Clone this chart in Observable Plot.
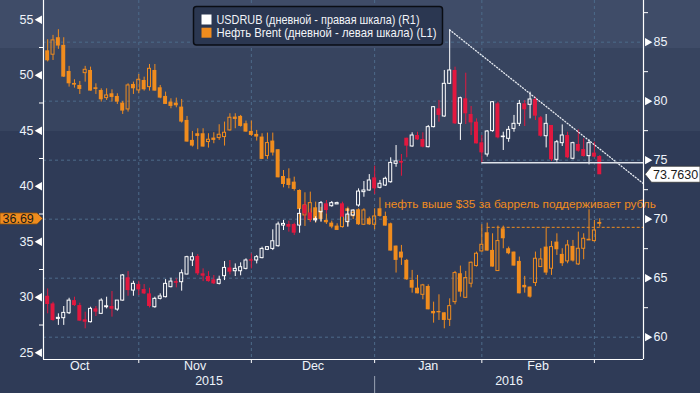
<!DOCTYPE html>
<html><head><meta charset="utf-8">
<script src="https://cdn.jsdelivr.net/npm/d3@7"></script>
<script src="https://cdn.jsdelivr.net/npm/@observablehq/plot@0.6"></script>
<style>
html,body{margin:0;padding:0;}
body{width:700px;height:393px;overflow:hidden;
background:linear-gradient(to bottom,#3f4c68 0,#3f4c68 48px,#37445f 48px,#37445f 131px,#2f3b57 131px);
font-family:"Liberation Sans",Arial,sans-serif;}
#chart{position:relative;width:700px;height:393px;}
</style></head><body><div id="chart"></div>
<script>
// ---- data: trading-day index 0..104 (early Oct 2015 .. 2 Mar 2016) ----
const brentO = [52.0,52.2,51.85,53.38,52.69,50.34,49.26,49.08,50.19,50.43,
48.87,48.63,47.94,48.33,48.09,47.49,46.92,49.17,48.63,49.53,
48.93,50.43,48.87,48.09,47.58,47.49,47.13,45.93,44.13,44.73,
44.73,43.98,44.34,44.34,44.43,45.03,46.23,46.29,45.63,44.94,
44.67,44.43,42.72,44.07,43.29,40.88,40.67,40.37,39.62,37.37,
36.98,38.06,37.76,36.92,36.68,36.41,36.32,37.97,37.3,37.88,
36.53,37.07,36.53,37.97,37.28,36.62,34.61,34.07,33.32,31.52,
30.82,30.22,30.97,28.72,28.72,28.6,27.97,29.56,32.12,29.95,
31.22,32.81,34.13,35.81,34.22,32.36,36.17,34.37,34.07,33.23,
31.07,30.92,31.28,32.72,34.52,32.57,34.97,33.86,33.23,34.58,
32.96,34.37,35.12,35.06,36.62];
const brentH = [52.1,53.2,53.59,54.1,53.38,50.8,49.59,49.44,50.8,50.73,
49.23,48.78,48.78,48.69,48.33,47.64,49.23,49.38,50.07,49.83,
50.97,50.97,49.08,48.48,47.88,47.94,47.82,46.29,44.94,45.18,
45.18,44.73,44.82,45.54,45.78,46.53,46.53,46.38,45.87,45.87,
45.03,44.73,44.79,44.79,43.29,41.42,41.57,40.82,39.68,39.41,
39.47,38.57,38.1,37.52,36.86,36.62,38.12,38.12,37.8,37.97,
37.97,37.22,37.97,38.96,37.67,36.68,34.61,34.67,33.41,32.42,
31.97,31.16,31.12,29.56,30.22,28.6,29.86,32.33,32.81,32.33,
33.17,34.07,36.53,36.68,35.72,36.41,36.41,34.52,34.07,33.62,
31.88,30.92,34.07,34.37,36.32,35.03,35.72,34.37,35.12,35.12,
35.87,35.72,37.88,36.92,37.07];
const brentL = [49.3,51.2,51.33,52.33,49.8,48.93,48.84,48.27,49.38,48.57,
48.27,47.58,47.73,47.58,47.37,46.47,46.68,48.27,48.33,48.57,
48.57,48.57,47.88,47.37,46.98,47.07,45.69,43.98,43.53,43.29,
43.53,43.44,43.83,44.13,43.62,44.97,45.18,45.33,44.88,44.49,
44.07,42.42,42.42,42.72,40.76,39.86,39.77,39.56,36.56,36.38,
36.77,36.68,36.8,36.56,36.17,36.02,36.23,36.38,37.0,36.47,
36.47,36.47,36.08,37.22,36.41,34.16,32.18,32.87,31.52,30.37,
30.31,29.77,28.87,27.67,27.91,27.16,27.37,29.32,30.01,29.95,
30.85,32.72,34.07,34.16,32.72,32.36,34.37,33.83,32.81,30.31,
30.37,29.92,30.97,32.72,31.97,31.97,33.77,32.78,33.02,33.17,
32.87,33.38,35.12,34.97,36.32];
const brentC = [49.4,51.3,53.14,52.63,49.83,49.23,49.11,48.72,50.49,48.57,
48.72,47.79,48.18,48.0,47.58,46.77,49.08,48.78,49.59,48.69,
50.58,48.57,47.94,47.37,47.19,47.25,45.78,43.98,43.62,44.49,
43.53,44.19,44.13,44.64,44.82,46.17,46.02,45.39,44.88,44.58,
44.43,42.42,43.89,42.99,40.76,40.16,40.07,39.71,37.91,38.27,
38.48,36.98,37.01,36.71,36.32,36.02,37.88,37.73,37.6,36.53,
37.82,36.53,37.28,37.28,36.41,34.16,33.32,33.53,31.57,30.82,
30.31,31.07,28.87,28.51,28.6,27.91,29.2,32.18,30.46,31.73,
33.11,33.92,34.73,34.16,32.72,35.06,35.27,33.92,32.81,30.31,
30.85,30.01,33.47,33.41,32.18,34.52,34.28,33.02,34.67,33.26,
34.37,35.27,35.18,36.02,36.69];

const usdO = [64.66,63.47,62.82,61.55,61.61,62.03,63.1,62.68,61.47,61.27,
62.4,61.98,62.54,62.6,62.34,63.1,65.03,63.95,64.46,64.04,
63.67,62.54,63.25,63.39,64.24,64.71,64.66,65.31,66.5,66.84,
65.37,65.14,64.86,64.52,65.17,65.87,65.59,65.59,65.79,66.56,
66.5,66.7,67.4,67.48,67.71,69.46,69.55,69.55,69.46,71.16,
70.53,69.9,70.59,71.3,71.1,71.25,71.3,69.75,70.31,71.16,
72.29,72.43,73.5,72.66,72.85,73.13,74.69,74.89,76.86,76.16,
77.09,76.75,76.1,77.8,79.35,78.7,81.47,82.6,78.08,80.2,
78.87,78.22,76.47,75.48,77.46,79.77,76.95,76.81,77.65,78.08,
79.77,79.69,80.14,78.59,77.03,77.94,75.03,76.44,77.09,75.12,
76.33,75.9,75.34,75.6,75.31];
const usdH = [64.7,64.09,62.96,61.98,62.6,63.3,63.39,62.88,62.12,62.54,
62.6,63.25,63.39,63.87,63.1,65.31,65.56,64.74,64.74,64.46,
64.15,63.39,63.67,64.88,65.0,64.94,65.7,66.86,67.15,67.0,
65.79,65.56,65.23,65.17,66.41,66.5,66.21,66.3,66.64,67.06,
66.92,67.63,67.68,69.1,69.75,69.89,69.83,69.66,70.87,71.44,
70.87,70.2,71.5,71.58,71.5,71.44,71.44,70.87,70.79,72.57,
73.19,73.78,74.49,73.28,73.56,75.2,76.24,75.48,76.86,77.32,
77.37,77.32,77.94,79.55,80.06,82.6,86.04,82.88,80.34,82.37,
79.55,78.5,77.09,77.51,79.97,79.91,77.37,77.85,78.79,80.06,
80.06,80.76,80.34,78.7,78.87,77.94,76.67,77.99,77.37,76.52,
77.57,76.81,76.72,76.52,75.39];
const usdL = [63.4,61.98,61.36,61.0,61.0,61.92,62.6,61.36,60.71,61.21,
61.75,61.92,62.4,61.7,62.2,63.05,63.47,63.47,63.53,63.61,
62.48,62.46,63.16,63.33,64.18,64.18,63.9,65.28,65.99,65.23,
64.71,64.66,64.46,64.43,64.8,65.28,65.14,65.2,65.7,65.79,
66.21,66.64,67.34,67.34,67.63,69.04,68.9,68.62,68.81,69.89,
69.75,69.7,69.75,70.45,71.02,71.25,70.17,69.32,70.22,71.02,
71.86,72.37,72.09,72.57,72.77,73.05,74.4,73.64,75.2,76.1,
76.67,76.04,76.04,77.74,78.22,78.64,81.41,78.02,76.67,78.02,
77.09,76.38,74.77,75.26,77.37,76.81,75.82,76.52,77.37,77.85,
77.85,78.5,78.36,76.95,76.04,74.89,74.83,76.16,75.12,75.03,
75.68,75.26,74.6,75.2,73.78];
const usdC = [63.53,62.77,61.41,61.64,62.06,63.1,62.68,61.36,61.27,62.4,
62.12,63.1,62.62,62.37,63.1,65.23,63.95,64.52,64.01,63.67,
62.6,63.25,63.45,64.52,64.71,64.57,65.42,66.78,66.78,65.37,
65.17,64.71,64.52,64.86,65.87,65.51,65.79,65.93,66.5,66.44,
66.78,67.48,67.63,68.13,69.55,69.6,69.32,68.81,70.45,70.45,
69.97,70.0,71.36,70.73,71.36,71.36,70.17,70.39,70.73,72.34,
72.43,73.28,72.57,73.0,73.42,74.77,74.89,74.75,76.19,77.09,
76.72,76.1,77.8,79.49,78.79,81.47,82.6,78.08,80.25,78.93,
78.16,76.38,75.62,77.43,79.91,76.89,77.0,77.57,78.08,79.77,
79.27,80.14,78.73,77.03,78.08,75.03,76.52,77.09,75.2,76.44,
75.76,75.31,76.44,75.26,73.763];

// axis ticks / calendar
const usdTicks = [60, 65, 70, 75, 80, 85];
const usdMinor = [62.5, 67.5, 72.5, 77.5, 82.5, 87.5];
const brentTicks = [25, 30, 35, 40, 45, 50, 55];
const brentMinor = [27.5, 32.5, 37.5, 42.5, 47.5, 52.5];
const monthStartIdx = [-4, 18, 39, 62, 82, 103];   // Oct 1, Nov 1, Dec 1, Jan 1, Feb 1, Mar 1
const monthNames = ["Oct", "Nov", "Dec", "Jan", "Feb"];
const yearStartIdx = 62;
const years = ["2015", "2016"];

// annotations (data units)
const trendIdx = [76, 113];
const trendVal = [86.04, 72.70];
const supportIdx = 82, supportVal = 74.78;      // USDRUB support
const brentLevelIdx = 83, brentLevel = 36.3;     // Brent resistance
const noteText = "нефть выше $35 за баррель поддерживает рубль";
const noteAt = {i: 63.8, usd: 71.3};
const legendItems = ["USDRUB (дневной - правая шкала) (R1)", "Нефть Brent (дневной - левая шкала) (L1)"];

// ---- scales ----
const xDomain = [0.224, 112.16];
const yDomain = [58.11, 88.53];
const brentToR = d3.scaleLinear().domain([25, 55]).range([58.68, 86.90]);

const ORANGE = "#f08c1e", RED = "#e2183f", WHITE = "#ffffff", GRID = "#4d6b8a", TXT = "#eef3fa";

const idx = d3.range(usdO.length);
const usd = idx.map(i => ({i, o: usdO[i], h: usdH[i], l: usdL[i], c: usdC[i]}));
const brent = idx.map(i => ({i, o: brentToR(brentO[i]), h: brentToR(brentH[i]), l: brentToR(brentL[i]), c: brentToR(brentC[i])}));

function candles(rows, upColor, downColor) {
  const up = rows.filter(d => d.c >= d.o), down = rows.filter(d => d.c < d.o);
  return [
    Plot.ruleX(up, {x: "i", y1: "h", y2: d => Math.max(d.o, d.c), stroke: upColor, clip: true}),
    Plot.ruleX(up, {x: "i", y1: d => Math.min(d.o, d.c), y2: "l", stroke: upColor, clip: true}),
    Plot.ruleX(down, {x: "i", y1: "l", y2: "h", stroke: downColor, clip: true}),
    Plot.rect(up, {x1: d => d.i - 0.28, x2: d => d.i + 0.28, y1: "o", y2: "c", fill: "none", stroke: upColor, strokeWidth: 1, clip: true}),
    Plot.rect(down, {x1: d => d.i - 0.37, x2: d => d.i + 0.37, y1: "o", y2: "c", fill: downColor, clip: true})
  ];
}

const months = monthNames.map((m, k) => ({m, x: (monthStartIdx[k] + monthStartIdx[k + 1]) / 2}));
const yearLab = [{y: years[0], x: (xDomain[0] + yearStartIdx) / 2}, {y: years[1], x: (yearStartIdx + xDomain[1]) / 2}];
const visibleMonthStarts = monthStartIdx.filter(v => v > xDomain[0] && v < xDomain[1]);

const chart = Plot.plot({
  width: 700, height: 393,
  marginLeft: 43, marginRight: 57, marginTop: 0, marginBottom: 34,
  style: {background: "transparent", fontFamily: "'Liberation Sans', Arial, sans-serif", fontSize: "12.5px", color: TXT},
  x: {type: "linear", domain: xDomain, axis: null},
  y: {domain: yDomain, axis: null},
  marks: [
    // grid
    Plot.ruleY(usdTicks, {stroke: GRID, strokeDasharray: "3,3", strokeWidth: 1}),
    Plot.ruleX(visibleMonthStarts, {stroke: GRID, strokeDasharray: "3,3", strokeWidth: 1}),
    // candles
    ...candles(brent, ORANGE, ORANGE),
    ...candles(usd, WHITE, RED),
    // annotation lines
    Plot.line(trendIdx.map((t, k) => ({x: t, y: trendVal[k]})), {x: "x", y: "y", stroke: "#e8ecf2", strokeWidth: 1.3, strokeDasharray: "1,2", clip: true}),
    Plot.ruleY([supportVal], {x1: supportIdx, x2: xDomain[1], stroke: "#dfe3ea", strokeWidth: 1.6}),
    Plot.ruleY([brentToR(brentLevel)], {x1: brentLevelIdx, x2: xDomain[1], stroke: ORANGE, strokeWidth: 1, strokeDasharray: "3,2"}),
    Plot.text([noteText], {x: noteAt.i, y: noteAt.usd, text: d => d, textAnchor: "start", fill: ORANGE, fontSize: 11.8}),
    // axes lines
    Plot.ruleX([xDomain[0], xDomain[1]], {stroke: WHITE, strokeWidth: 1.2}),
    Plot.ruleY([yDomain[0]], {stroke: WHITE, strokeWidth: 1.2}),
    // left (Brent) axis
    Plot.ruleY(brentMinor.map(brentToR), {x1: xDomain[0], x2: xDomain[0], insetLeft: -4, stroke: WHITE}),
    Plot.dot(brentTicks, {x: xDomain[0], y: d => brentToR(d), symbol: "triangle", r: 3.1, rotate: -90, fill: WHITE, stroke: "none", dx: -4}),
    Plot.text(brentTicks, {x: xDomain[0], y: d => brentToR(d), text: d => String(d), textAnchor: "end", dx: -10, fill: TXT}),
    // right (USDRUB) axis
    Plot.ruleY(usdMinor, {x1: xDomain[1], x2: xDomain[1], insetRight: -5, stroke: WHITE}),
    Plot.dot(usdTicks, {x: xDomain[1], y: d => d, symbol: "triangle", r: 3.1, rotate: 90, fill: WHITE, stroke: "none", dx: 4}),
    Plot.text(usdTicks, {x: xDomain[1], y: d => d, text: d => String(d), textAnchor: "start", dx: 10, fill: TXT}),
    // bottom axis
    Plot.ruleX(visibleMonthStarts, {insetTop: 359, insetBottom: -4, stroke: WHITE}),
    Plot.ruleX([yearStartIdx], {insetTop: 376, insetBottom: -34, stroke: "#9aa3b3"}),
    Plot.text(months, {x: "x", text: "m", frameAnchor: "bottom", dy: 10.5, fill: TXT}),
    Plot.text(yearLab, {x: "x", text: "y", frameAnchor: "bottom", dy: 25.5, fill: TXT})
  ]
});
document.getElementById("chart").append(chart);

// ---- value tags and legend drawn with the plot's own scales ----
const svg = d3.select(chart);
const ys = chart.scale("y");
const lastBrent = brentC[brentC.length - 1], lastUsd = usdC[usdC.length - 1];
const yb = ys.apply(brentToR(lastBrent)) - 4;
const gL = svg.append("g").attr("text-anchor", "start");
gL.append("path").attr("d", `M0,${yb - 5.5}H37L42.5,${yb}L37,${yb + 5.5}H0Z`).attr("fill", ORANGE).attr("stroke", "#8a5210").attr("stroke-width", 0.8);
gL.append("text").attr("x", 2.5).attr("y", yb).attr("dy", "0.36em").attr("font-size", 12.5).attr("fill", "#1a1a1a").text(d3.format(".2f")(lastBrent));

const yu = ys.apply(lastUsd);
const gR = svg.append("g").attr("text-anchor", "start");
gR.append("path").attr("d", `M645,${yu}L651.5,${yu - 8}H700V${yu + 8}H651.5Z`).attr("fill", "#ffffff").attr("stroke", "#3a3a3a").attr("stroke-width", 0.8);
gR.append("text").attr("x", 653).attr("y", yu).attr("dy", "0.36em").attr("font-size", 12.5).attr("fill", "#1a1a1a").text(d3.format(".4f")(lastUsd));

const lg = svg.append("g").attr("transform", "translate(193.5,6.5)").attr("text-anchor", "start");
lg.append("rect").attr("width", 249).attr("height", 38.5).attr("rx", 3).attr("fill", "#2b3751").attr("stroke", "#0a0d14").attr("stroke-width", 1.5);
const legendWidths = [203, 220];
[[WHITE, legendItems[0]], [ORANGE, legendItems[1]]].forEach(([col, t], k) => {
  lg.append("rect").attr("x", 8).attr("y", 8 + k * 13.2).attr("width", 10).attr("height", 10).attr("fill", col);
  lg.append("text").attr("x", 23).attr("y", 17.8 + k * 12.8).attr("font-size", 12.2)
    .attr("textLength", legendWidths[k]).attr("lengthAdjust", "spacingAndGlyphs")
    .attr("fill", "#f2f4f8").text(t);
});
</script>
</body></html>
